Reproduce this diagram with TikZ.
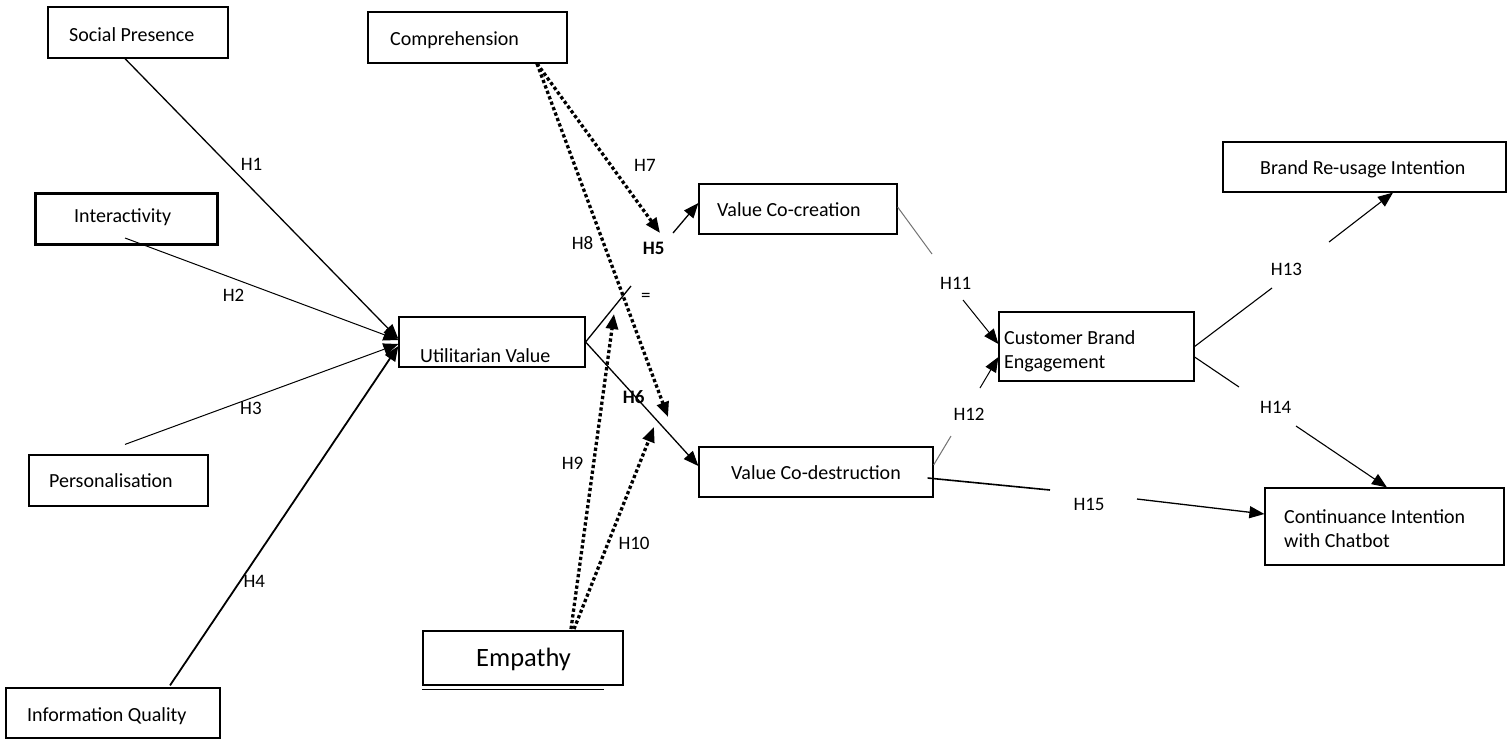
\documentclass[tikz,border=0pt]{standalone}
\usepackage{fontspec}
\setmainfont{Carlito}
\usetikzlibrary{arrows.meta}

\tikzset{
  box/.style={draw, line width=1.2pt, inner sep=0pt},
  thickbox/.style={box, line width=3pt},
  txt/.style={inner sep=0pt, anchor=base west, font=\fontsize{20}{24}\selectfont},
  hyp/.style={inner sep=0pt, anchor=base west, font=\fontsize{19}{22}\selectfont},
  hypb/.style={hyp, font=\fontsize{19}{22}\selectfont\bfseries},
  link/.style={line width=1.1pt},
  arr/.style={link, -{Triangle[length=15pt,width=12pt]}},
  greylink/.style={line width=1pt, black!55},
  dots/.style={line width=3.3pt, dash pattern=on 3.3pt off 2.5pt,
    -{Triangle[length=15pt,width=12pt]}},
}

\begin{document}
\begin{tikzpicture}[x=1pt, y=-1pt]
\useasboundingbox (0,0) rectangle (1507,740);

% ---- construct boxes ----
\node[box, minimum width=180pt, minimum height=51pt] (sp) at (138,32.5) {};
\node[box, minimum width=199pt, minimum height=51pt] (comp) at (467.5,37.5) {};
\node[thickbox, minimum width=182pt, minimum height=51pt] (inter) at (126,218.5) {};
\node[box, minimum width=179pt, minimum height=51pt] (pers) at (118.5,480.5) {};
\node[box, minimum width=214pt, minimum height=50pt] (iq) at (113,713) {};
\node[box, minimum width=186pt, minimum height=50pt] (uv) at (492,342) {};
\node[box, line width=2pt, minimum width=200pt, minimum height=54pt] (emp) at (523,658) {};
\node[box, minimum width=198pt, minimum height=50pt] (vcc) at (798,209) {};
\node[box, minimum width=234pt, minimum height=50pt] (vcd) at (816,472) {};
\node[box, minimum width=195pt, minimum height=69pt] (cbe) at (1096.5,346.5) {};
\node[box, minimum width=283pt, minimum height=50pt] (bri) at (1364.5,167) {};
\node[box, minimum width=239pt, minimum height=77pt] (cic) at (1384.5,526.5) {};

% second rule under the Empathy box
\draw[line width=1pt] ([yshift=-3pt]emp.south west) -- ([xshift=-20pt,yshift=-3pt]emp.south east);

% ---- box texts (multi-line nodes sit on the baseline of their last line) ----
\node[txt] (sp-t)    at (69,41.5)   {Social Presence};
\node[txt] (comp-t)  at (390,45)    {Comprehension};
\node[txt] (inter-t) at (74,222.7)  {Interactivity};
\node[txt] (pers-t)  at (49,487.7)  {Personalisation};
\node[txt] (iq-t)    at (27,721.7)  {Information Quality};
\node[txt] (uv-t)    at (420,362.3) {Utilitarian Value};
\node[txt, font=\fontsize{26.5}{30}\selectfont] (emp-t) at (476,666.7) {Empathy};
\node[txt] (vcc-t)   at (717,216.7) {Value Co-creation};
\node[txt] (vcd-t)   at (731,479.3) {Value Co-destruction};
\node[txt, align=left] (cbe-t) at (1004,368) {Customer Brand\\Engagement};
\node[txt] (bri-t)   at (1260,174)  {Brand Re-usage Intention};
\node[txt, align=left] (cic-t) at (1284,547.5) {Continuance Intention\\with Chatbot};

% ---- antecedents of utilitarian value ----
\draw[arr, line width=1.3pt] ([xshift=-13pt]sp.south) -- ([yshift=3pt]uv.west);
\draw[arr, line width=1pt] ([xshift=-1pt,yshift=-19.5pt]inter.center) -- ([yshift=2pt]uv.west);
\draw[arr, line width=1pt] ([xshift=6.5pt,yshift=10pt]pers.north) -- ([yshift=-2pt]uv.west);
\draw[arr, line width=1.8pt] ([xshift=57pt,yshift=2pt]iq.north) -- ([yshift=-4pt]uv.west);

\node[hyp] (h1) at (240.7,170)   {H1};
\node[hyp] (h2) at (222.7,301.7) {H2};
\node[hyp] (h3) at (240,414)     {H3};
\node[hyp] (h4) at (243.3,587.7) {H4};

% ---- utilitarian value to co-creation / co-destruction ----
\coordinate (h5a) at (631,286);
\coordinate (h5b) at (673,233);
\draw[link, line width=1.3pt] (uv.east) -- (h5a);
\draw[arr, line width=1.3pt] (h5b) -- ([yshift=6pt]vcc.west);
\draw[arr, line width=1.3pt] (uv.east) -- ([yshift=6pt]vcd.west);

\node[hypb] (h5) at (642.7,254.3) {H5};
\node[hyp]  (eq) at (641,301.5)   {=};
\node[hypb] (h6) at (622.7,403.3) {H6};

% ---- moderating paths ----
\coordinate (h7end)  at (660,233);
\coordinate (h8end)  at (668,417);
\coordinate (h9end)  at (614,314);
\coordinate (h10end) at (654,427);
\draw[dots] ([xshift=69.5pt]comp.south) -- (h7end);
\draw[dots] ([xshift=69.5pt]comp.south) -- (h8end);
\draw[dots] ([xshift=48pt,yshift=1pt]emp.north) -- (h9end);
\draw[dots] ([xshift=51pt,yshift=1pt]emp.north) -- (h10end);

\node[hyp] (h7)  at (634,171.7)   {H7};
\node[hyp] (h8)  at (571.7,249.3) {H8};
\node[hyp] (h9)  at (561.7,469.3) {H9};
\node[hyp] (h10) at (618.3,549)   {H10};

% ---- to customer brand engagement ----
\coordinate (h11a) at (932,254);
\coordinate (h11b) at (963,300);
\draw[greylink] ([yshift=2pt]vcc.east) -- (h11a);
\draw[greylink, -{Triangle[length=15pt,width=12pt]}, black] (h11b) -- ([yshift=2.5pt]cbe.west);
\node[hyp] (h11) at (940,289) {H11};

\coordinate (h12a) at (951,436);
\coordinate (h12b) at (980,388);
\draw[greylink] ([yshift=7pt]vcd.east) -- (h12a);
\draw[greylink, -{Triangle[length=15pt,width=12pt]}, black] (h12b) -- ([yshift=-10.5pt]cbe.west);
\node[hyp] (h12) at (953.3,420) {H12};

% ---- outcomes ----
\coordinate (h13a) at (1272,288);
\coordinate (h13b) at (1329,242);
\draw[link] (cbe.east) -- (h13a);
\draw[arr] (h13b) -- ([xshift=28.5pt]bri.south);
\node[hyp] (h13) at (1270.7,275) {H13};

\coordinate (h14a) at (1239,387);
\coordinate (h14b) at (1296,426);
\draw[link] ([yshift=-10.5pt]cbe.east) -- (h14a);
\draw[arr] (h14b) -- ([xshift=2.5pt]cic.north);
\node[hyp] (h14) at (1260,413.3) {H14};

\coordinate (h15a) at (1050,490);
\coordinate (h15b) at (1137,499);
\draw[link, line width=1.6pt] ([xshift=-6pt,yshift=-6pt]vcd.east) -- (h15a);
\draw[arr, line width=1.3pt] (h15b) -- ([yshift=12.5pt]cic.west);
\node[hyp] (h15) at (1073.3,510) {H15};

\end{tikzpicture}
\end{document}
